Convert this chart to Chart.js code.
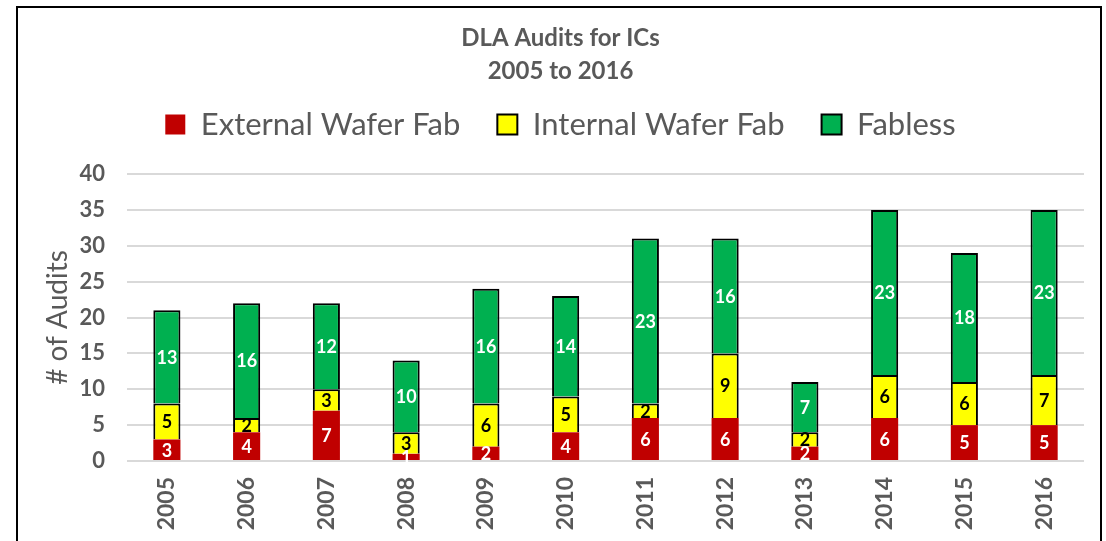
<!DOCTYPE html>
<html>
<head>
<meta charset="utf-8">
<script src="https://cdn.jsdelivr.net/npm/chart.js@4"></script>
<style>
  html, body { margin: 0; padding: 0; background: #fff; overflow: hidden; }
  #cadre { position: absolute; left: 16px; top: 6px; width: 1086px; height: 600px; border: 2px solid #000; box-sizing: border-box; }
  #zone { position: absolute; left: 0; top: 0; width: 1106px; height: 541px; }
</style>
</head>
<body>
<div id="cadre"></div>
<div id="zone"><canvas id="graphique"></canvas></div>
<script>
// valeurs
const annees = ['2005', '2006', '2007', '2008', '2009', '2010', '2011', '2012', '2013', '2014', '2015', '2016'];
const externe = [3, 4, 7, 1, 2, 4, 6, 6, 2, 6, 5, 5];
const interne = [5, 2, 3, 3, 6, 5, 2, 9, 2, 6, 6, 7];
const fabless = [13, 16, 12, 10, 16, 14, 23, 16, 7, 23, 18, 23];
const ticksY = [0, 5, 10, 15, 20, 25, 30, 35, 40];

const police = 'Lato, "Liberation Sans", sans-serif';
const gris = '#595959';

// petit plugin pour ecrire les valeurs dans les barres
const etiquettes = {
    id: 'etiquettes',
    afterDatasetsDraw(chart) {
        const ctx = chart.ctx;
        ctx.save();
        ctx.font = 'bold 18px ' + police;
        ctx.textAlign = 'center';
        ctx.textBaseline = 'middle';
        chart.data.datasets.forEach((ds, i) => {
            const meta = chart.getDatasetMeta(i);
            meta.data.forEach((bar, j) => {
                const milieu = (bar.y + bar.base) / 2;
                ctx.fillStyle = ds.couleurTexte;
                ctx.fillText(ds.data[j], bar.x, milieu + 1);
            });
        });
        ctx.restore();
    }
};

// ajoute de l'espace sous la legende
const espaceLegende = {
    id: 'espaceLegende',
    beforeInit(chart) {
        const fitOrig = chart.legend.fit;
        chart.legend.fit = function() {
            fitOrig.bind(chart.legend)();
            this.height += 24;
        };
    }
};

new Chart(document.getElementById('graphique'), {
    type: 'bar',
    data: {
        labels: annees,
        datasets: [{
            label: 'External Wafer Fab',
            data: externe,
            backgroundColor: '#c00000',
            borderColor: '#c00000',
            borderWidth: 0,
            couleurTexte: '#ffffff'
        }, {
            label: 'Internal Wafer Fab',
            data: interne,
            backgroundColor: '#ffff00',
            borderColor: '#000000',
            borderWidth: 2,
            couleurTexte: '#000000'
        }, {
            label: 'Fabless',
            data: fabless,
            backgroundColor: '#00b050',
            borderColor: '#000000',
            borderWidth: 2,
            couleurTexte: '#ffffff'
        }]
    },
    options: {
        responsive: true,
        maintainAspectRatio: false,
        animation: false,
        datasets: { bar: { barPercentage: 0.85, categoryPercentage: 0.4 } },
        layout: { padding: { left: 37, right: 22, top: 6, bottom: 2 } },
        plugins: {
            title: {
                display: true,
                text: ['DLA Audits for ICs', '2005 to 2016'],
                color: gris,
                font: { family: police, size: 24, weight: 'bold', lineHeight: 1.375 },
                padding: { top: 16, bottom: -16 }
            },
            legend: {
                labels: {
                    color: gris,
                    font: { family: police, size: 31 },
                    boxWidth: 20,
                    boxHeight: 20,
                    padding: 37
                }
            },
            tooltip: { enabled: false }
        },
        scales: {
            x: {
                stacked: true,
                grid: { display: false },
                border: { display: false },
                afterFit: axis => { axis.height = 78; },
                ticks: {
                    color: gris,
                    font: { family: police, size: 23, weight: 'bold' },
                    maxRotation: 90,
                    minRotation: 90,
                    padding: 8
                }
            },
            y: {
                stacked: true,
                min: 0,
                max: 40,
                afterBuildTicks: axis => { axis.ticks = ticksY.map(v => ({ value: v })); },
                afterFit: axis => { axis.width = 90; },
                grid: { color: '#d9d9d9', lineWidth: 2, drawTicks: false },
                border: { display: false },
                ticks: {
                    color: gris,
                    font: { family: police, size: 22, weight: 'bold' },
                    padding: 22
                },
                title: {
                    display: true,
                    text: '# of Audits',
                    color: gris,
                    font: { family: police, size: 28 },
                    padding: 4
                }
            }
        }
    },
    plugins: [etiquettes, espaceLegende]
});
</script>
</body>
</html>
